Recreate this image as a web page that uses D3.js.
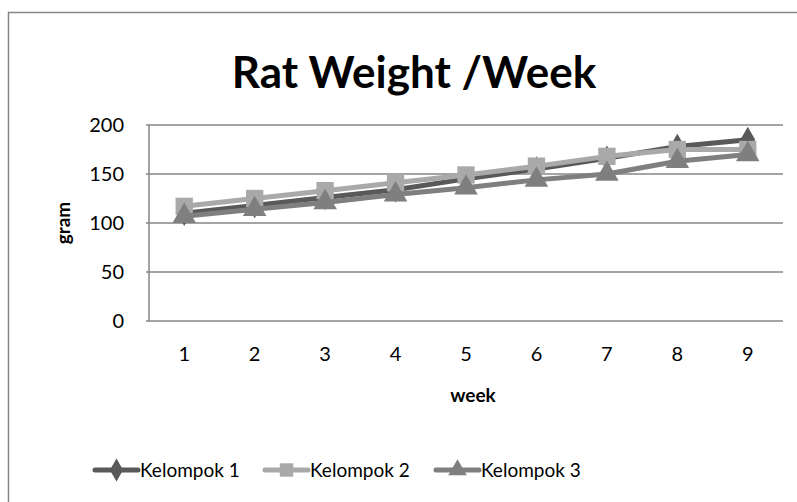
<!DOCTYPE html>
<html><head><meta charset="utf-8">
<script src="https://cdn.jsdelivr.net/npm/d3@7"></script>
<style>body{margin:0;background:#fff;}svg{display:block;font-family:Lato,"Open Sans",sans-serif;}</style>
</head><body>
<svg id="c" width="797" height="502"></svg>
<script>
const weeks = ["1","2","3","4","5","6","7","8","9"];
const kelompok1 = [110,118,126,134,145,155,166,178,185];
const kelompok2 = [117,125,133,141,149,158,168,175,175];
const kelompok3 = [107,114,121,129,136,144,150,163,170];
const seriesNames = ["Kelompok 1","Kelompok 2","Kelompok 3"];
const yTicks = [0,50,100,150,200];
const colors = ["#595959","#a9a9a9","#7f7f7f"];
const symbols = [d3.symbolDiamond, d3.symbolSquare, d3.symbolTriangle];
const symSizes = [190, 300, 240];
const legSizes = [150, 180, 150];

const series = [kelompok1,kelompok2,kelompok3].map((v,i)=>({name:seriesNames[i],values:v,color:colors[i],symbol:symbols[i],size:symSizes[i],lsize:legSizes[i]}));

const svg = d3.select("#c");
svg.append("rect").attr("x",8.5).attr("y",12.5).attr("width",800).attr("height",500)
  .attr("fill","none").attr("stroke","#868686").attr("stroke-width",1.5);

const pL=149,pR=783,pT=125,pB=321;
const x = d3.scaleBand().domain(weeks).range([pL,pR]);
const y = d3.scaleLinear().domain([0,200]).range([pB,pT]);

svg.append("g").selectAll("line").data(yTicks).join("line")
  .attr("x1",pL-3).attr("x2",pR).attr("y1",d=>y(d)).attr("y2",d=>y(d))
  .attr("stroke","#868686").attr("stroke-width",1.5);
svg.append("line").attr("x1",pL).attr("x2",pL).attr("y1",pT).attr("y2",pB)
  .attr("stroke","#868686").attr("stroke-width",1.5);

const yAxis = d3.axisLeft(y).tickValues(yTicks).tickSize(0).tickPadding(25);
const gy = svg.append("g").attr("transform",`translate(${pL},0)`).call(yAxis);
gy.select(".domain").remove();
gy.selectAll("text").attr("font-size",20).attr("fill","#000").attr("font-family","Lato,sans-serif");

const xAxis = d3.axisBottom(x).tickSize(0).tickPadding(26);
const gx = svg.append("g").attr("transform",`translate(0,${pB})`).call(xAxis);
gx.select(".domain").remove();
gx.selectAll("text").attr("font-size",20).attr("fill","#000").attr("font-family","Lato,sans-serif");

svg.append("text").attr("x",414).attr("y",88).attr("text-anchor","middle")
  .attr("font-size",44).attr("font-weight","bold").text("Rat Weight /Week");
svg.append("text").attr("x",473).attr("y",402).attr("text-anchor","middle")
  .attr("font-size",19).attr("font-weight","bold").text("week");
svg.append("text").attr("transform","translate(70,223) rotate(-90)").attr("text-anchor","middle")
  .attr("font-size",19).attr("font-weight","bold").text("gram");

const line = d3.line().x((d,i)=>x(weeks[i])+x.bandwidth()/2).y(d=>y(d));
series.forEach(s=>{
  const g = svg.append("g");
  g.append("path").attr("d",line(s.values)).attr("fill","none").attr("stroke",s.color)
    .attr("stroke-width",5).attr("stroke-linejoin","round");
  g.selectAll("path.m").data(s.values).join("path").attr("class","m")
    .attr("d",d3.symbol().type(s.symbol).size(s.size))
    .attr("transform",(d,i)=>`translate(${x(weeks[i])+x.bandwidth()/2},${y(d)})`)
    .attr("fill",s.color);
});

const legX = [95,265,436];
const legY = 470;
series.forEach((s,i)=>{
  const g = svg.append("g").attr("transform",`translate(${legX[i]},${legY})`);
  g.append("line").attr("x1",0).attr("x2",43).attr("y1",0).attr("y2",0)
    .attr("stroke",s.color).attr("stroke-width",5).attr("stroke-linecap","round");
  g.append("path").attr("d",d3.symbol().type(s.symbol).size(s.lsize)).attr("transform","translate(21.5,0)").attr("fill",s.color);
  g.append("text").attr("x",45).attr("y",7).attr("font-size",19).text(s.name);
});
</script>
</body></html>
